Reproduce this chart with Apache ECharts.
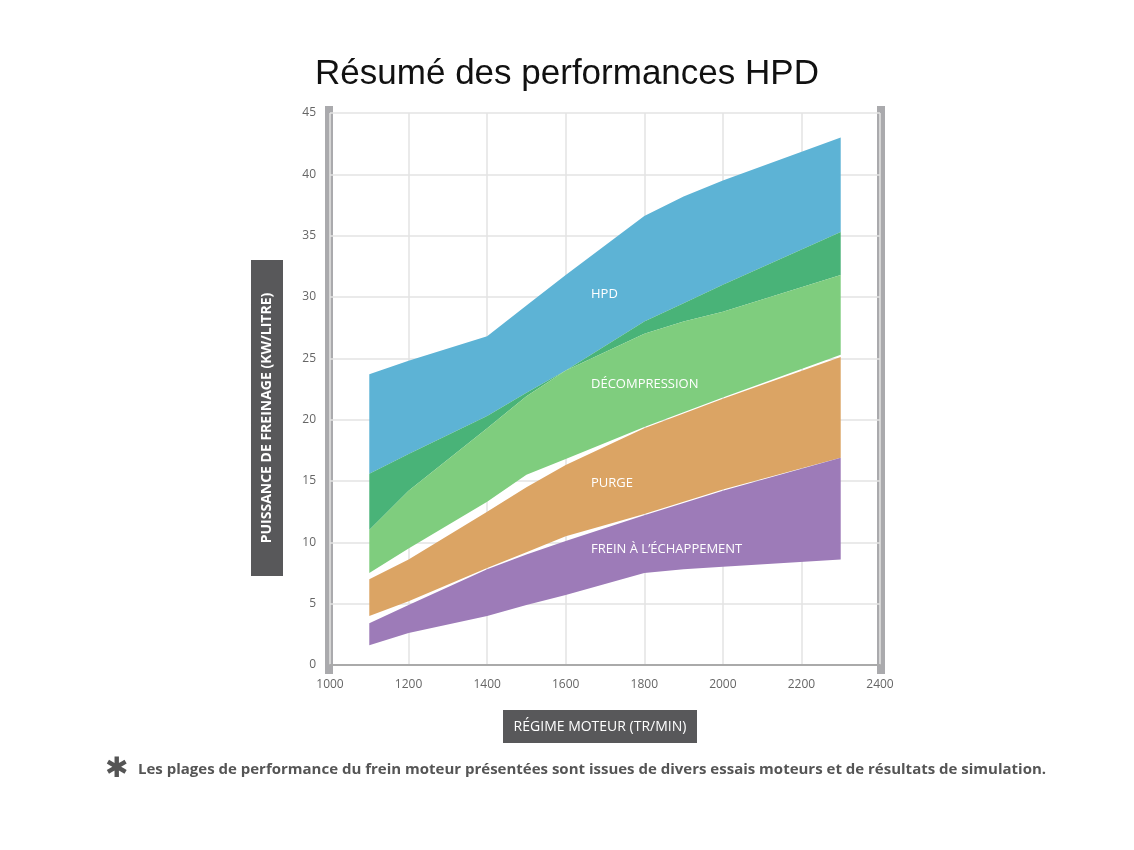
<!DOCTYPE html>
<html><head><meta charset="utf-8">
<script src="https://cdn.jsdelivr.net/npm/echarts@6/dist/echarts.min.js"></script>
<style>html,body{margin:0;background:#fff}#c{width:1134px;height:850px}</style>
</head><body><div id="c"></div>
<script>
const xs = [1100, 1200, 1400, 1500, 1600, 1800, 1900, 2000, 2300];
const hpdTop = [23.7, 24.8, 26.8, 29.3, 31.8, 36.6, 38.2, 39.5, 43.0];
const hpdBottom = [15.6, 17.2, 20.3, 22.2, 24.0, 28.0, 29.5, 31.0, 35.3];
const decoTop = [11.0, 14.2, 19.3, 21.9, 24.0, 27.0, 28.0, 28.8, 31.8];
const decoBottom = [7.5, 9.5, 13.3, 15.5, 16.8, 19.4, 20.6, 21.8, 25.3];
const purgeTop = [7.0, 8.6, 12.5, 14.5, 16.3, 19.3, 20.5, 21.7, 25.1];
const purgeBottom = [4.0, 5.2, 7.9, 9.2, 10.5, 12.3, 13.3, 14.3, 16.9];
const brakeTop = [3.4, 4.9, 7.8, 9.0, 10.1, 12.2, 13.2, 14.2, 16.9];
const brakeBottom = [1.6, 2.6, 4.0, 4.9, 5.7, 7.5, 7.8, 8.0, 8.6];
const yTicks = [0,5,10,15,20,25,30,35,40,45];

const darkTop = hpdBottom.map((v,i)=>Math.max(v, decoTop[i]));
const bands = [
  {lo:hpdBottom, hi:hpdTop, color:'#5db3d5'},
  {lo:decoTop, hi:darkTop, color:'#49b378'},
  {lo:decoBottom, hi:decoTop, color:'#7fcd7e'},
  {lo:purgeBottom, hi:purgeTop, color:'#dba464'},
  {lo:brakeBottom, hi:brakeTop, color:'#9d7bb8'}
];
const chart = echarts.init(document.getElementById('c'));
const txt = (x,y,t)=>({type:'text', left:x, top:y, z:100, style:{text:t, fill:'#fff', font:'13px "Open Sans", sans-serif'}});
chart.setOption({
  animation:false,
  title:{text:'Résumé des performances HPD', left:'center', top:52, textStyle:{fontFamily:'Liberation Sans, Arial', fontWeight:'normal', fontSize:35, color:'#111'}},
  grid:{left:330, right:254, top:113, bottom:185},
  xAxis:{type:'value', min:1000, max:2400, interval:200,
    axisLine:{show:true, lineStyle:{color:'#aaa', width:2}}, axisTick:{show:false},
    axisLabel:{color:'#666', fontSize:12, margin:14, fontFamily:'Open Sans', formatter:v=>String(v)},
    splitLine:{show:true, lineStyle:{color:'#e3e3e3', width:1.5}}},
  yAxis:{type:'value', min:0, max:45, interval:5,
    axisLine:{show:false}, axisTick:{show:false},
    axisLabel:{color:'#666', fontSize:12, margin:14, fontFamily:'Open Sans', formatter:v=>yTicks.includes(v)?String(v):''},
    splitLine:{show:true, lineStyle:{color:'#e3e3e3', width:1.5}}},
  series:[{
    type:'custom', silent:true,
    data:bands.map((b,i)=>[i]),
    renderItem:(params, api)=>{
      const b = bands[params.dataIndex];
      const pts = [];
      xs.forEach((x,i)=>pts.push(api.coord([x, b.hi[i]])));
      for (let i = xs.length-1; i >= 0; i--) pts.push(api.coord([xs[i], b.lo[i]]));
      return {type:'polygon', shape:{points:pts}, style:{fill:b.color}};
    }
  }],
  graphic:[
    {type:'rect', shape:{x:325,y:106,width:8,height:568}, style:{fill:'#aaaaad'}},
    {type:'rect', shape:{x:877,y:106,width:8,height:568}, style:{fill:'#aaaaad'}},
    {type:'rect', shape:{x:251,y:260,width:32,height:316}, style:{fill:'#58585a'}},
    {type:'text', x:267, y:418, rotation:Math.PI/2, style:{text:'PUISSANCE DE FREINAGE (KW/LITRE)', fill:'#fff', font:'bold 14px "Open Sans", sans-serif', align:'center', verticalAlign:'middle'}},
    {type:'rect', shape:{x:503,y:710,width:194,height:33}, style:{fill:'#58585a'}},
    {type:'text', x:600, y:727, style:{text:'RÉGIME MOTEUR (TR/MIN)', fill:'#fff', font:'14px "Open Sans", sans-serif', align:'center', verticalAlign:'middle'}},
    txt(591,288,'HPD'), txt(591,378,'DÉCOMPRESSION'), txt(591,477,'PURGE'), txt(591,543,'FREIN À L\u2019ÉCHAPPEMENT'),
    {type:'text', x:105, y:770, style:{text:'\u2731', fill:'#555', font:'bold 28px "DejaVu Sans", sans-serif', verticalAlign:'middle'}},
    {type:'text', x:138, y:770, style:{text:'Les plages de performance du frein moteur présentées sont issues de divers essais moteurs et de résultats de simulation.', fill:'#555', font:'bold 15px "Liberation Sans Narrow", "Open Sans", sans-serif', verticalAlign:'middle'}}
  ]
});
</script></body></html>
